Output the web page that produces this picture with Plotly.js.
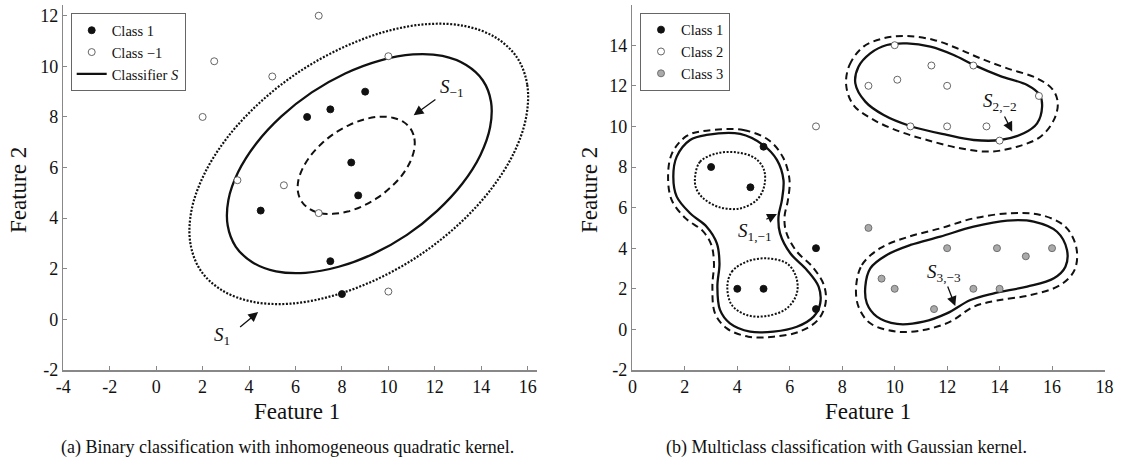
<!DOCTYPE html>
<html>
<head>
<meta charset="utf-8">
<script src="https://cdn.plot.ly/plotly-3.0.1.min.js"></script>
<style>html,body{margin:0;padding:0;background:#fff}#chart{width:1121px;height:470px}</style>
</head>
<body>
<div id="chart"></div>
<script>
// ---------- Panel (a): binary classification ----------
const aClass1X = [9.0, 7.5, 6.5, 8.4, 8.7, 4.5, 7.5, 8.0];
const aClass1Y = [9.0, 8.3, 8.0, 6.2, 4.9, 4.3, 2.3, 1.0];
const aClassNegX = [7.0, 2.5, 5.0, 2.0, 10.0, 3.5, 5.5, 7.0, 10.0];
const aClassNegY = [12.0, 10.2, 9.6, 8.0, 10.4, 5.5, 5.3, 4.2, 1.1];

// classifier S (solid)
const aSX = [14.07,14.42,14.38,13.96,13.18,12.10,10.80,9.35,7.86,6.43,5.16,4.14,3.43,3.08,3.11,3.53,4.31,5.39,6.70,8.14,9.63,11.06,12.33,13.35,14.07];
const aSY = [9.44,8.60,7.59,6.49,5.36,4.29,3.34,2.59,2.08,1.84,1.90,2.26,2.87,3.71,4.72,5.82,6.95,8.02,8.97,9.72,10.23,10.47,10.41,10.05,9.44];
// S_-1 (dashed)
const aSnX = [10.96,11.12,11.11,10.93,10.59,10.11,9.54,8.90,8.24,7.61,7.05,6.59,6.27,6.11,6.12,6.31,6.65,7.12,7.69,8.33,8.99,9.62,10.19,10.64,10.96];
const aSnY = [7.53,7.15,6.70,6.21,5.70,5.23,4.81,4.48,4.26,4.17,4.20,4.37,4.65,5.02,5.48,5.97,6.47,6.94,7.36,7.69,7.91,8.01,7.97,7.81,7.53];
// S_1 (dotted)
const aSpX = [15.54,15.98,15.93,15.40,14.40,13.02,11.35,9.49,7.59,5.76,4.14,2.83,1.91,1.47,1.52,2.06,3.05,4.43,6.10,7.96,9.86,11.69,13.31,14.62,15.54];
const aSpY = [10.35,9.27,7.98,6.57,5.12,3.75,2.54,1.58,0.93,0.62,0.70,1.15,1.94,3.02,4.31,5.72,7.17,8.54,9.75,10.71,11.37,11.67,11.59,11.14,10.35];

// ---------- Panel (b): multiclass classification ----------
const bClass1X = [3, 4.5, 5, 7, 4, 5, 7];
const bClass1Y = [8, 7, 9, 4, 2, 2, 1];
const bClass2X = [10, 11.4, 13, 9, 10.1, 12, 15.5, 10.6, 12, 13.5, 14, 7];
const bClass2Y = [14, 13, 13, 12, 12.3, 12, 11.5, 10, 10, 10, 9.3, 10];
const bClass3X = [9, 12, 13.9, 15, 16, 9.5, 10, 13, 14, 11.5];
const bClass3Y = [5, 4, 4, 3.6, 4, 2.5, 2, 2, 2, 1];

const b1SolidX = [2.83,4.11,4.99,5.51,5.76,5.70,5.57,5.63,6.02,6.65,7.10,7.16,6.91,6.27,5.38,4.49,3.72,3.34,3.24,3.32,3.22,2.83,2.20,1.69,1.56,1.69,2.20,2.83];
const b1SolidY = [9.58,9.63,9.08,8.35,7.36,6.37,5.55,4.73,3.75,2.93,2.11,1.28,0.63,0.13,-0.11,-0.11,0.30,0.96,2.11,3.25,4.24,5.06,5.72,6.54,7.52,8.51,9.33,9.58];
const b1DashX = [2.83,4.23,5.19,5.74,5.99,5.93,5.80,5.86,6.24,6.88,7.31,7.36,7.07,6.37,5.38,4.42,3.60,3.15,3.05,3.11,3.01,2.68,2.03,1.50,1.36,1.51,2.07,2.83];
const b1DashY = [9.79,9.82,9.33,8.48,7.36,6.37,5.55,4.81,3.88,3.06,2.15,1.25,0.46,-0.11,-0.36,-0.36,0.05,0.79,2.11,3.25,4.16,4.85,5.47,6.37,7.52,8.67,9.53,9.79];
const b1DotUpX = [2.39,2.58,3.22,3.98,4.68,5.02,5.02,4.74,4.11,3.34,2.71,2.43,2.39];
const b1DotUpY = [7.52,8.26,8.67,8.72,8.43,7.85,7.03,6.37,5.96,6.01,6.45,6.95,7.52];
const b1DotLoX = [3.62,3.79,4.36,5.12,5.89,6.24,6.27,5.89,5.12,4.36,3.79,3.62];
const b1DotLoY = [2.11,2.84,3.34,3.50,3.25,2.60,1.78,1.04,0.66,0.71,1.20,2.11];

const b2SolidX = [8.50,8.62,9.07,9.70,10.47,11.36,12.25,13.01,14.03,15.05,15.53,15.62,15.43,14.92,14.03,13.01,11.99,10.59,9.58,8.88,8.50];
const b2SolidY = [12.12,12.94,13.60,14.01,14.09,13.93,13.52,13.03,12.48,12.04,11.55,10.97,10.15,9.66,9.33,9.33,9.58,10.02,10.56,11.22,12.12];
const b2DashX = [8.15,8.28,8.81,9.58,10.47,11.49,12.38,13.27,14.29,15.43,16.04,16.22,16.07,15.56,14.67,13.65,12.50,11.23,10.21,9.20,8.43,8.15];
const b2DashY = [12.04,13.03,13.93,14.34,14.45,14.26,13.85,13.35,12.86,12.37,11.79,11.14,10.32,9.49,9.00,8.76,8.92,9.33,9.74,10.32,11.05,12.04];

const b3SolidX = [8.88,9.07,9.70,10.60,11.74,13.01,14.29,15.30,16.19,16.57,16.51,16.07,15.05,13.78,12.89,11.99,11.10,10.09,9.32,8.94,8.88];
const b3SolidY = [2.11,3.01,3.67,4.16,4.57,5.06,5.36,5.31,4.81,3.91,3.09,2.52,2.11,1.78,1.45,0.79,0.38,0.27,0.63,1.28,2.11];
const b3DashX = [8.53,8.75,9.45,10.47,11.74,13.01,14.41,15.56,16.51,16.93,16.86,16.32,15.18,13.90,13.01,12.12,11.10,10.09,9.07,8.62,8.53];
const b3DashY = [2.11,3.17,4.00,4.54,4.98,5.47,5.72,5.64,5.06,4.00,2.93,2.19,1.69,1.42,1.12,0.38,-0.03,-0.11,0.30,1.12,2.11];

// tick labels
const aXTicks = [-4,-2,0,2,4,6,8,10,12,14,16];
const aYTicks = [-2,0,2,4,6,8,10,12];
const bXTicks = [0,2,4,6,8,10,12,14,16,18];
const bYTicks = [-2,0,2,4,6,8,10,12,14,16];
const lab = v => String(v);

const FONT = "Liberation Serif, Times New Roman, serif";
const DOT = "2px,1.6px", DASH = "7px,4.5px";

function curve(x, y, xa, ya, dash, width, name, legend, show) {
  return {x, y, xaxis: xa, yaxis: ya, type: 'scatter', mode: 'lines',
    line: {color: '#111', width: width, dash: dash, shape: 'spline', smoothing: 1},
    name: name || '', showlegend: !!show, legend: legend || 'legend', hoverinfo: 'skip'};
}
function pts(x, y, xa, ya, fill, edge, name, legend) {
  return {x, y, xaxis: xa, yaxis: ya, type: 'scatter', mode: 'markers', name,
    marker: {size: 7, color: fill, line: {color: edge, width: 0.9}}, legend, cliponaxis: false};
}

const traces = [
  curve(aSX, aSY, 'x', 'y', 'solid', 2.3, 'Classifier <i>S</i>', 'legend', true),
  curve(aSnX, aSnY, 'x', 'y', DASH, 2, '', 'legend', false),
  curve(aSpX, aSpY, 'x', 'y', DOT, 2.2, '', 'legend', false),
  pts(aClass1X, aClass1Y, 'x', 'y', '#111', '#111', 'Class 1', 'legend'),
  pts(aClassNegX, aClassNegY, 'x', 'y', '#fff', '#555', 'Class −1', 'legend'),

  curve(b1SolidX, b1SolidY, 'x2', 'y2', 'solid', 2.3, '', 'legend2', false),
  curve(b1DashX, b1DashY, 'x2', 'y2', DASH, 2, '', 'legend2', false),
  curve(b1DotUpX, b1DotUpY, 'x2', 'y2', DOT, 2, '', 'legend2', false),
  curve(b1DotLoX, b1DotLoY, 'x2', 'y2', DOT, 2, '', 'legend2', false),
  curve(b2SolidX, b2SolidY, 'x2', 'y2', 'solid', 2.3, '', 'legend2', false),
  curve(b2DashX, b2DashY, 'x2', 'y2', DASH, 2, '', 'legend2', false),
  curve(b3SolidX, b3SolidY, 'x2', 'y2', 'solid', 2.3, '', 'legend2', false),
  curve(b3DashX, b3DashY, 'x2', 'y2', DASH, 2, '', 'legend2', false),
  pts(bClass1X, bClass1Y, 'x2', 'y2', '#111', '#111', 'Class 1', 'legend2'),
  pts(bClass2X, bClass2Y, 'x2', 'y2', '#fff', '#555', 'Class 2', 'legend2'),
  pts(bClass3X, bClass3Y, 'x2', 'y2', '#aaa', '#666', 'Class 3', 'legend2')
];

const W = 1121, H = 470;
const yDom = [1 - 370 / H, 1 - 4.6 / H];
function axis(domain, range, ticks, anchor) {
  return {domain, range, anchor, tickvals: ticks, ticktext: ticks.map(lab),
    showline: true, linecolor: '#888', linewidth: 1.5, ticks: 'inside', ticklen: 4,
    tickcolor: '#888', tickwidth: 1, showgrid: false, zeroline: false,
    tickfont: {family: FONT, size: 18, color: '#111'}, fixedrange: true};
}

function arrow(xr, yr, x, y, ax, ay) {
  return {xref: xr, yref: yr, axref: xr, ayref: yr, x, y, ax, ay, text: '',
    showarrow: true, arrowhead: 2, arrowsize: 1.5, arrowwidth: 1.3, arrowcolor: '#111'};
}
function label(xr, yr, x, y, text, size) {
  return {xref: xr, yref: yr, x, y, text, showarrow: false, xanchor: 'center', yanchor: 'middle',
    font: {family: FONT, size: size || 18, color: '#111'}};
}

const annotations = [
  label('x', 'y', 12.74, 9.13, '<i>S</i><sub>−1</sub>', 19),
  arrow('x', 'y', 11.09, 8.07, 12.09, 8.73),
  label('x', 'y', 2.84, -0.66, '<i>S</i><sub>1</sub>', 19),
  arrow('x', 'y', 4.39, 0.29, 3.55, -0.35),
  label('x2', 'y2', 4.68, 4.81, '<i>S</i><sub>1,−1</sub>', 19),
  arrow('x2', 'y2', 5.51, 5.69, 5.05, 5.39),
  label('x2', 'y2', 14.03, 11.22, '<i>S</i><sub>2,−2</sub>', 19),
  arrow('x2', 'y2', 14.48, 9.74, 14.16, 10.56),
  label('x2', 'y2', 11.87, 2.76, '<i>S</i><sub>3,−3</sub>', 19),
  arrow('x2', 'y2', 12.31, 1.15, 12.0, 2.19),
  // axis titles
  label('paper', 'paper', 297 / W, 1 - 411 / H, 'Feature 1', 23),
  label('paper', 'paper', 868 / W, 1 - 411 / H, 'Feature 1', 23),
  Object.assign(label('paper', 'paper', 18 / W, 1 - 190 / H, 'Feature 2', 23), {textangle: -90}),
  Object.assign(label('paper', 'paper', 589 / W, 1 - 190 / H, 'Feature 2', 23), {textangle: -90}),
  // captions
  label('paper', 'paper', 287 / W, 1 - 447 / H, '(a) Binary classification with inhomogeneous quadratic kernel.', 18),
  label('paper', 'paper', 846 / W, 1 - 447 / H, '(b) Multiclass classification with Gaussian kernel.', 18)
];

const legendBase = {xanchor: 'left', yanchor: 'top', bgcolor: '#fff', bordercolor: '#666',
  borderwidth: 1, font: {family: FONT, size: 14.5, color: '#111'}, tracegroupgap: 0, itemwidth: 30,
  traceorder: 'normal'};

const layout = {
  width: W, height: H, margin: {l: 0, r: 0, t: 0, b: 0},
  paper_bgcolor: '#fff', plot_bgcolor: '#fff', showlegend: true,
  font: {family: FONT, color: '#111'},
  xaxis: axis([63.3 / W, 537 / W], [-4, 16.4], aXTicks, 'y'),
  yaxis: axis(yDom, [-2, 12.44], aYTicks, 'x'),
  xaxis2: axis([632.4 / W, 1104.5 / W], [0, 18], bXTicks, 'y2'),
  yaxis2: axis(yDom, [-2, 16], bYTicks, 'x2'),
  legend: Object.assign({x: 70.7 / W, y: 1 - 13.3 / H}, legendBase),
  legend2: Object.assign({x: 640 / W, y: 1 - 12.7 / H}, legendBase),
  annotations
};

// legend order: Class 1, Class -1, Classifier S
traces[0].legendrank = 3; traces[3].legendrank = 1; traces[4].legendrank = 2;

Plotly.newPlot('chart', traces, layout, {staticPlot: true, displayModeBar: false});
</script>
</body>
</html>
